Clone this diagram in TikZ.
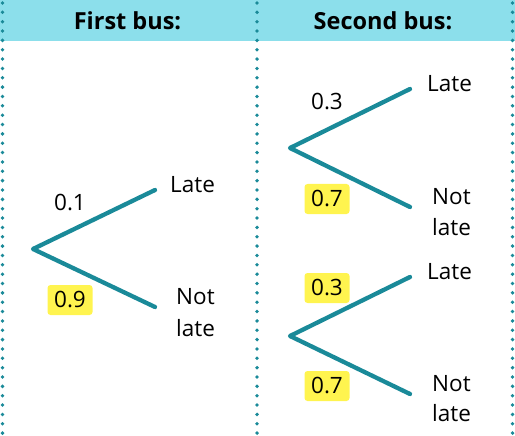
\documentclass[tikz,border=0pt]{standalone}
\usepackage{fontspec}
\setmainfont{Open Sans}
\definecolor{band}{HTML}{8CDFEB}
\definecolor{teal}{HTML}{1A8A99}
\definecolor{hl}{HTML}{FFF44F}
\begin{document}
\begin{tikzpicture}[x=1pt,y=-1pt,
  branch/.style={draw=teal,line width=4.3pt,line cap=round,line join=round},
  divider/.style={draw=teal,line width=3.8pt,line cap=round,dash pattern=on 0pt off 9.35pt},
  txt/.style={font=\fontsize{22.5}{27}\selectfont,inner sep=0pt},
  prob/.style={txt},
  hlprob/.style={txt,fill=hl,rounded corners=3pt,minimum width=45pt,minimum height=30pt},
  head/.style={font=\bfseries\fontsize{23.5}{28}\selectfont,inner sep=0pt}]
\useasboundingbox (0,0) rectangle (515,436);
\fill[band] (0,0) rectangle (515,41);
\node[head] (h1) at (127.5,21) {First bus:};
\node[head] (h2) at (383,21) {Second bus:};
\coordinate (d1t) at (2.5,3); \coordinate (d1b) at (2.5,436);
\coordinate (d2t) at (257,3); \coordinate (d2b) at (257,436);
\coordinate (d3t) at (512.5,3); \coordinate (d3b) at (512.5,436);
\draw[divider] (d1t) -- (d1b);
\draw[divider] (d2t) -- (d2b);
\draw[divider] (d3t) -- (d3b);
% first tree
\coordinate (r1) at (33,249);
\coordinate (r1u) at (155,190);
\coordinate (r1d) at (155,307);
\draw[branch] (r1u) -- (r1) -- (r1d);
\node[prob] (p1) at (70,203) {0.1};
\node[hlprob] (p2) at (70,300) {0.9};
\node[txt,anchor=west] (l1) at (170,185) {Late};
\node[txt,anchor=west] (n1) at (176,297) {Not};
\node[txt,anchor=west] (n1b) at (176,328) {late};
% second tree upper
\coordinate (r2) at (290,148);
\coordinate (r2u) at (410,89);
\coordinate (r2d) at (410,207);
\draw[branch] (r2u) -- (r2) -- (r2d);
\node[prob] (p3) at (327,102) {0.3};
\node[hlprob] (p4) at (327,199) {0.7};
\node[txt,anchor=west] (l2) at (427,84) {Late};
\node[txt,anchor=west] (n2) at (432,197) {Not};
\node[txt,anchor=west] (n2b) at (432,227) {late};
% second tree lower
\coordinate (r3) at (290,336);
\coordinate (r3u) at (410,277);
\coordinate (r3d) at (410,394);
\draw[branch] (r3u) -- (r3) -- (r3d);
\node[hlprob] (p5) at (327,288) {0.3};
\node[hlprob] (p6) at (327,386) {0.7};
\node[txt,anchor=west] (l3) at (427,272) {Late};
\node[txt,anchor=west] (n3) at (432,384) {Not};
\node[txt,anchor=west] (n3b) at (432,413) {late};
\end{tikzpicture}
\end{document}
